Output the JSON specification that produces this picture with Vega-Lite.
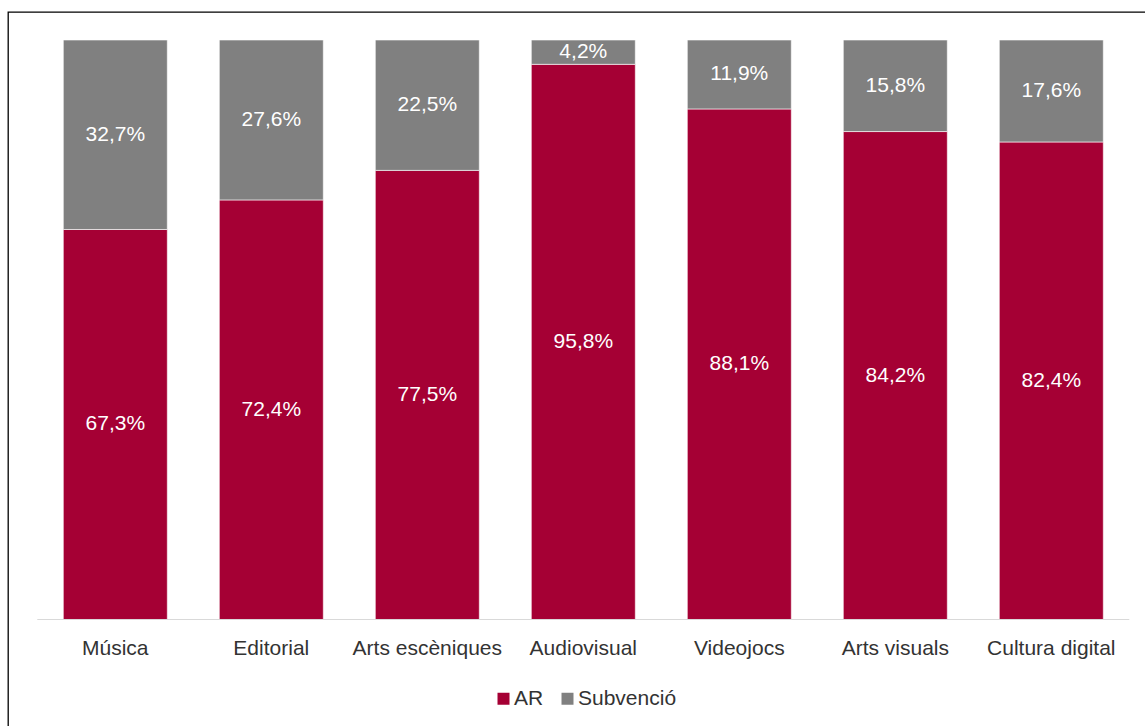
{
  "$schema": "https://vega.github.io/schema/vega-lite/v6.json",
  "width": 1140,
  "height": 717,
  "autosize": {"type": "none"},
  "padding": {"left": 8, "top": 12, "right": -3, "bottom": -3},
  "background": "white",
  "config": {
    "locale": {"number": {"decimal": ",", "thousands": ".", "grouping": [3], "currency": ["", " €"]}},
    "view": {"stroke": "#000000", "strokeWidth": 1.3},
    "font": "Liberation Sans"
  },
  "data": {
    "values": [
      {"sector": "Música", "tipus": "AR", "share": 0.673},
      {"sector": "Música", "tipus": "Subvenció", "share": 0.327},
      {"sector": "Editorial", "tipus": "AR", "share": 0.724},
      {"sector": "Editorial", "tipus": "Subvenció", "share": 0.276},
      {"sector": "Arts escèniques", "tipus": "AR", "share": 0.775},
      {"sector": "Arts escèniques", "tipus": "Subvenció", "share": 0.225},
      {"sector": "Audiovisual", "tipus": "AR", "share": 0.958},
      {"sector": "Audiovisual", "tipus": "Subvenció", "share": 0.042},
      {"sector": "Videojocs", "tipus": "AR", "share": 0.881},
      {"sector": "Videojocs", "tipus": "Subvenció", "share": 0.119},
      {"sector": "Arts visuals", "tipus": "AR", "share": 0.842},
      {"sector": "Arts visuals", "tipus": "Subvenció", "share": 0.158},
      {"sector": "Cultura digital", "tipus": "AR", "share": 0.824},
      {"sector": "Cultura digital", "tipus": "Subvenció", "share": 0.176}
    ]
  },
  "encoding": {
    "x": {
      "field": "sector",
      "type": "nominal",
      "sort": ["Música", "Editorial", "Arts escèniques", "Audiovisual", "Videojocs", "Arts visuals", "Cultura digital"],
      "scale": {"paddingInner": 0.3333, "paddingOuter": 0.3205, "align": 0.553, "round": false},
      "axis": {
        "title": null,
        "labelAngle": 0,
        "labelFontSize": 21,
        "labelFont": "Liberation Sans",
        "labelColor": "#333333",
        "domain": false,
        "ticks": false,
        "tickSize": 0,
        "grid": false,
        "labelPadding": 18,
        "labelOverlap": false,
        "labelLimit": 300,
        "offset": -109.5
      }
    }
  },
  "layer": [
    {
      "mark": {"type": "bar", "stroke": "white", "strokeWidth": 0.6},
      "encoding": {
        "y": {
          "field": "share",
          "type": "quantitative",
          "stack": "zero",
          "scale": {"domain": [-0.18896, 1.0483], "nice": false, "zero": false},
          "axis": null
        },
        "order": {"field": "tipus", "sort": "ascending"},
        "color": {
          "field": "tipus",
          "type": "nominal",
          "scale": {"domain": ["AR", "Subvenció"], "range": ["#A50034", "#808080"]},
          "legend": {
            "title": null,
            "orient": "none",
            "legendX": 485,
            "legendY": 676,
            "direction": "horizontal",
            "symbolType": "square",
            "symbolSize": 144,
            "symbolStrokeWidth": 0,
            "labelFontSize": 21,
            "labelFont": "Liberation Sans",
            "labelColor": "#333333",
            "labelOffset": 0,
            "columnPadding": 13,
            "padding": 0
          }
        }
      }
    },
    {
      "mark": {"type": "text", "color": "white", "fontSize": 21, "font": "Liberation Sans", "baseline": "middle"},
      "encoding": {
        "y": {"field": "share", "type": "quantitative", "stack": "zero", "bandPosition": 0.5},
        "order": {"field": "tipus", "sort": "ascending"},
        "detail": {"field": "tipus"},
        "text": {"field": "share", "type": "quantitative", "format": ".1%"}
      }
    },
    {
      "data": {"values": [{}]},
      "mark": {"type": "rule", "color": "#d9d9d9", "strokeWidth": 1.2},
      "encoding": {
        "y": {"datum": 0},
        "x": {"datum": "Música", "bandPosition": -0.25},
        "x2": {"datum": "Cultura digital", "bandPosition": 1.25}
      }
    }
  ]
}
